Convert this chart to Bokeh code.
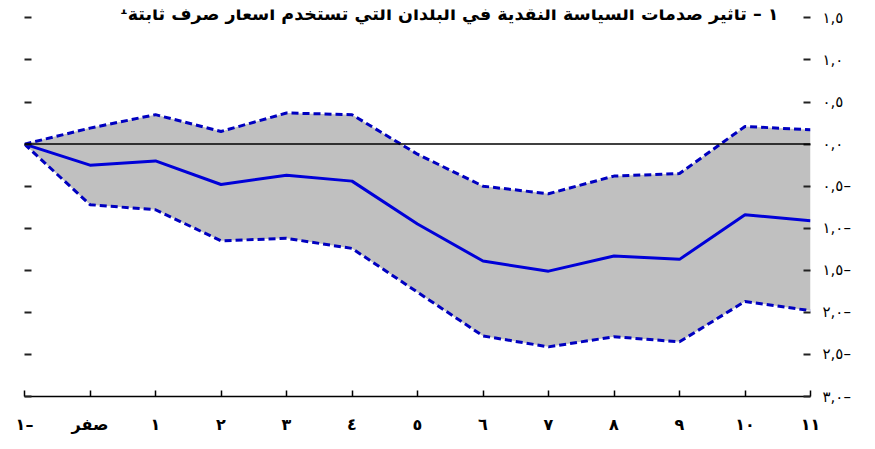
from bokeh.plotting import figure
from bokeh.models import LinearAxis, FixedTicker, Label, Span
from bokeh.embed import file_html
from bokeh.resources import INLINE

# ---- data ----
quarters = [-1, 0, 1, 2, 3, 4, 5, 6, 7, 8, 9, 10, 11]
x_labels = ["١–", "صفر", "١", "٢", "٣", "٤", "٥", "٦", "٧", "٨", "٩", "١٠", "١١"]
response = [0.0, -0.25, -0.20, -0.48, -0.37, -0.44, -0.95, -1.39, -1.51, -1.33, -1.37, -0.84, -0.91]
upper_band = [0.0, 0.19, 0.35, 0.15, 0.37, 0.35, -0.12, -0.50, -0.59, -0.38, -0.35, 0.21, 0.17]
lower_band = [0.0, -0.72, -0.78, -1.15, -1.12, -1.24, -1.76, -2.28, -2.41, -2.29, -2.35, -1.87, -1.98]
y_ticks = [1.5, 1.0, 0.5, 0.0, -0.5, -1.0, -1.5, -2.0, -2.5, -3.0]
y_labels = ["١,٥", "١,٠", "٠,٥", "٠,٠", "٠,٥–", "١,٠–", "١,٥–", "٢,٠–", "٢,٥–", "٣,٠–"]
baseline = 0.0
title_text = "١ – تأثير صدمات السياسة النقدية في البلدان التي تستخدم أسعار صرف ثابتة¹"

p = figure(width=870, height=441, output_backend="svg", toolbar_location=None,
           x_range=(-1, 11), y_range=(-3, 1.6), y_axis_location="right",
           min_border_left=24, min_border_right=60, min_border_top=9, min_border_bottom=45)
p.background_fill_color = "white"
p.border_fill_color = "white"
p.outline_line_color = None
p.xgrid.visible = False
p.ygrid.visible = False

# band
p.varea(x=quarters, y1=lower_band, y2=upper_band, fill_color="#c0c0c0")
# zero line
p.add_layout(Span(location=baseline, dimension="width", line_color="black", line_width=1.5))
# band edges
p.line(quarters, upper_band, line_color="#0000c0", line_width=3, line_dash="7 4")
p.line(quarters, lower_band, line_color="#0000c0", line_width=3, line_dash="7 4")
# central response
p.line(quarters, response, line_color="#0000d8", line_width=3)

# x axis
xa = p.xaxis[0]
xa.ticker = FixedTicker(ticks=quarters)
xa.major_label_overrides = {q: l for q, l in zip(quarters, x_labels)}
xa.major_tick_in = 6
xa.major_tick_out = 0
xa.minor_tick_line_color = None
xa.axis_line_width = 1.5
xa.axis_line_color = "black"
xa.major_tick_line_color = "black"
xa.major_tick_line_width = 1.5
xa.major_label_standoff = 18
xa.major_label_text_font = "DejaVu Sans"
xa.major_label_text_font_style = "bold"
xa.major_label_text_font_size = "16px"
xa.major_label_text_color = "black"

# right y axis
ya = p.yaxis[0]
ya.ticker = FixedTicker(ticks=y_ticks)
ya.major_label_overrides = {t: l for t, l in zip(y_ticks, y_labels)}
ya.axis_line_color = None
ya.major_tick_in = 7
ya.major_tick_out = 0
ya.major_tick_line_color = "#222222"
ya.major_tick_line_width = 2
ya.minor_tick_line_color = None
ya.major_label_standoff = 12
ya.major_label_text_font = "DejaVu Sans"
ya.major_label_text_font_size = "15px"
ya.major_label_text_color = "black"

# left y axis (ticks only)
la = LinearAxis(ticker=FixedTicker(ticks=y_ticks))
la.major_label_overrides = {t: "" for t in y_ticks}
la.axis_line_color = None
la.major_tick_in = 7
la.major_tick_out = 0
la.major_tick_line_color = "#222222"
la.major_tick_line_width = 2
la.minor_tick_line_color = None
la.major_label_standoff = 0
la.major_label_text_font_size = "1px"
p.add_layout(la, "left")

# title
p.add_layout(Label(x=10.51, y=1.55, text=title_text, text_align="right", text_baseline="middle",
                   text_font="DejaVu Sans", text_font_style="bold", text_font_size="17.5px",
                   text_color="black"))

open("out.html", "w").write(file_html(p, INLINE))
